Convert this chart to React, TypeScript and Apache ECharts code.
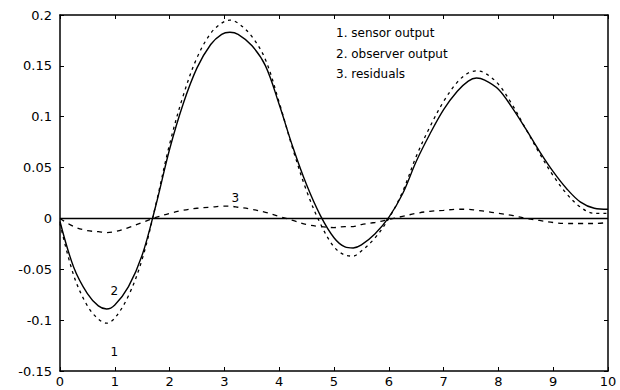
import React, { useEffect, useRef } from "react";
import * as echarts from "echarts";

const TIME = [
  0, 0.25, 0.5, 0.7, 0.85, 1.0, 1.25, 1.5, 1.75, 2, 2.25, 2.5, 2.75, 2.95, 3.1, 3.25, 3.5, 3.75, 4,
  4.25, 4.5, 4.75, 5, 5.2, 5.35, 5.5, 5.75, 6, 6.25, 6.5, 6.75, 7, 7.25, 7.45, 7.6, 7.75, 8, 8.25, 8.5,
  8.75, 9, 9.25, 9.5, 9.75, 10,
];

const SENSOR = [
  -0.003, -0.048, -0.074, -0.086, -0.089, -0.085, -0.067, -0.036, 0.013, 0.068, 0.113, 0.148, 0.171,
  0.181, 0.183, 0.181, 0.17, 0.15, 0.112, 0.07, 0.033, 0.003, -0.019, -0.028, -0.029, -0.026, -0.015,
  0.001, 0.024, 0.056, 0.083, 0.107, 0.125, 0.135, 0.138, 0.136, 0.127, 0.109, 0.088, 0.066, 0.046,
  0.029, 0.016, 0.01, 0.009,
];

const OBSERVER = [
  -0.005, -0.056, -0.086, -0.099, -0.103, -0.098, -0.076, -0.04, 0.014, 0.073, 0.121, 0.158, 0.182,
  0.192, 0.195, 0.192, 0.179, 0.156, 0.114, 0.068, 0.027, -0.005, -0.028, -0.036, -0.037, -0.032,
  -0.019, 0.0, 0.026, 0.061, 0.09, 0.115, 0.134, 0.143, 0.145, 0.143, 0.132, 0.112, 0.088, 0.064,
  0.042, 0.024, 0.011, 0.005, 0.005,
];

const RESIDUALS = [
  0, -0.008, -0.012, -0.013, -0.014, -0.013, -0.009, -0.004, 0.001, 0.005, 0.008, 0.01, 0.011, 0.012,
  0.012, 0.011, 0.009, 0.006, 0.002, -0.002, -0.006, -0.008, -0.009, -0.008, -0.008, -0.006, -0.004,
  -0.001, 0.002, 0.005, 0.007, 0.008, 0.009, 0.009, 0.008, 0.007, 0.005, 0.003, 0.0, -0.002, -0.004,
  -0.005, -0.005, -0.005, -0.004,
];

const LEGEND_LINES = ["1. sensor output", "2. observer output", "3. residuals"];
const CURVE_TAGS = [
  { name: "3", t: 3.2, v: 0.02 },
  { name: "2", t: 0.99, v: -0.071 },
  { name: "1", t: 0.99, v: -0.131 },
];

const FONT = "DejaVu Sans";

export default function App() {
  const ref = useRef<HTMLDivElement>(null);

  useEffect(() => {
    if (!ref.current) return;
    const chart = echarts.init(ref.current, undefined, { renderer: "svg" });
    const axisLine = { show: true, onZero: false, lineStyle: { color: "#000", width: 1.5 } };
    const tick = { show: true, inside: true, length: 4, lineStyle: { color: "#000", width: 1 } };
    const fmt = (v: number) => String(Math.round(v * 100) / 100);

    chart.setOption({
      animation: false,
      backgroundColor: "#fff",
      grid: { left: 60, right: 12, top: 15, bottom: 19, containLabel: false },
      xAxis: [
        {
          type: "value",
          min: 0,
          max: 10,
          interval: 1,
          position: "bottom",
          axisLine,
          axisTick: tick,
          splitLine: { show: false },
          axisLabel: { color: "#000", fontSize: 13, fontFamily: FONT, margin: 4 },
        },
        {
          type: "value",
          min: 0,
          max: 10,
          interval: 1,
          position: "top",
          axisLine,
          axisTick: tick,
          splitLine: { show: false },
          axisLabel: { show: false },
        },
      ],
      yAxis: [
        {
          type: "value",
          min: -0.15,
          max: 0.2,
          interval: 0.05,
          position: "left",
          axisLine,
          axisTick: tick,
          splitLine: { show: false },
          axisLabel: { color: "#000", fontSize: 13, fontFamily: FONT, margin: 8, formatter: fmt },
        },
        {
          type: "value",
          min: -0.15,
          max: 0.2,
          interval: 0.05,
          position: "right",
          axisLine,
          axisTick: tick,
          splitLine: { show: false },
          axisLabel: { show: false },
        },
      ],
      series: [
        {
          name: "sensor output",
          type: "line",
          smooth: 0.35,
          showSymbol: false,
          data: TIME.map((t, i) => [t, SENSOR[i]]),
          lineStyle: { color: "#000", width: 1.4, type: "solid" },
          markLine: {
            silent: true,
            symbol: ["none", "none"],
            label: { show: false },
            lineStyle: { color: "#000", width: 1.4, type: "solid" },
            data: [{ yAxis: 0 }],
          },
          markPoint: {
            silent: true,
            symbol: "circle",
            symbolSize: 0,
            label: {
              show: true,
              position: "inside",
              formatter: "{b}",
              color: "#000",
              fontSize: 12,
              fontFamily: FONT,
            },
            data: CURVE_TAGS.map((c) => ({ name: c.name, coord: [c.t, c.v] })),
          },
        },
        {
          name: "observer output",
          type: "line",
          smooth: 0.35,
          showSymbol: false,
          data: TIME.map((t, i) => [t, OBSERVER[i]]),
          lineStyle: { color: "#000", width: 1.3, type: [3, 4] },
        },
        {
          name: "residuals",
          type: "line",
          smooth: 0.35,
          showSymbol: false,
          data: TIME.map((t, i) => [t, RESIDUALS[i]]),
          lineStyle: { color: "#000", width: 1.3, type: [5, 5] },
        },
      ],
      graphic: LEGEND_LINES.map((s, i) => ({
        type: "text",
        left: 336,
        top: 27 + i * 20.5,
        style: { text: s, fill: "#000", fontSize: 12, fontFamily: FONT },
      })),
    });

    return () => chart.dispose();
  }, []);

  return (
    <div
      ref={ref}
      style={{ position: "fixed", left: 0, top: 0, width: 620, height: 390, background: "#fff" }}
    />
  );
}
